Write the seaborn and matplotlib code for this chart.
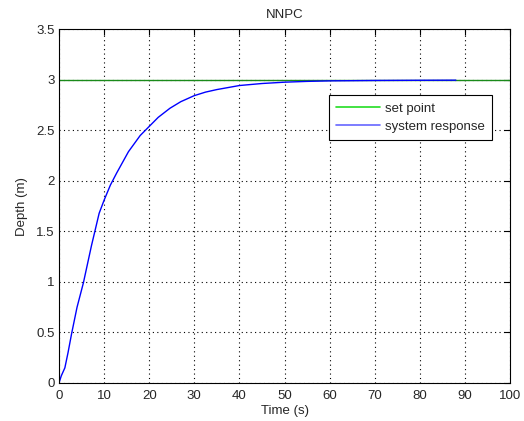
import matplotlib
matplotlib.use("Agg")
import matplotlib.pyplot as plt
import seaborn as sns
import pandas as pd

# values
time_s = [0, 0.5, 1.3, 2, 2.8, 4, 5.4, 7.2, 8.9, 10, 11.4, 12.8, 15.4, 18, 20,
          22, 24.6, 27, 30, 32.5, 35, 37.5, 40, 45, 50, 55, 60, 70, 80, 88]
depth_m = [0, 0.07, 0.15, 0.3, 0.49, 0.75, 0.99, 1.36, 1.68, 1.81, 1.96, 2.08,
           2.29, 2.45, 2.54, 2.63, 2.72, 2.785, 2.845, 2.88, 2.905, 2.925,
           2.945, 2.965, 2.978, 2.986, 2.991, 2.995, 2.997, 2.998]
set_point = 3.0
x_limits = [0, 100]

sns.set_style("white")
plt.rcParams['font.family'] = ['Liberation Sans', 'DejaVu Sans']
fs = 9.5

fig = plt.figure(figsize=(5.24, 4.21), dpi=100)
ax = fig.add_axes([0.1126, 0.0903, 0.8607, 0.8397])

sp = pd.DataFrame({'t': x_limits, 'depth': [set_point, set_point]})
resp = pd.DataFrame({'t': time_s, 'depth': depth_m})

sns.lineplot(data=sp, x='t', y='depth', ax=ax, color='#1a8a1a', lw=1.0,
             label='set point')
sns.lineplot(data=resp, x='t', y='depth', ax=ax, color='#0000ff', lw=1.0,
             label='system response')

ax.set_xlim(0, 100)
ax.set_ylim(0, 3.5)
ax.set_xticks(range(0, 101, 10))
ax.set_yticks([0, 0.5, 1, 1.5, 2, 2.5, 3, 3.5])
ax.set_yticklabels(['0', '0.5', '1', '1.5', '2', '2.5', '3', '3.5'])
ax.grid(True, linestyle=(0, (1, 3)), color='black', linewidth=0.8)
ax.tick_params(direction='in', length=4, labelsize=fs, top=True, right=True,
               color='black')
ax.tick_params(axis='x', pad=5)
ax.tick_params(axis='y', pad=3)
for s in ax.spines.values():
    s.set_color('black')
    s.set_linewidth(0.8)

ax.set_xlabel('Time (s)', fontsize=fs, labelpad=2)
ax.set_ylabel('Depth (m)', fontsize=fs, labelpad=6)
ax.set_title('NNPC', fontsize=fs, pad=8)

leg = ax.legend(loc='upper right', bbox_to_anchor=(0.960, 0.8136),
                fontsize=fs, fancybox=False, edgecolor='black',
                framealpha=1, borderpad=0.55, handlelength=3.3,
                handletextpad=0.4, labelspacing=0.45, borderaxespad=0)
leg.get_frame().set_linewidth(0.8)
legend_colors = ['#22dd22', '#6666ff']
for line, c in zip(leg.get_lines(), legend_colors):
    line.set_color(c)
    line.set_linewidth(1.2)

fig.savefig('out.png', dpi=100)
